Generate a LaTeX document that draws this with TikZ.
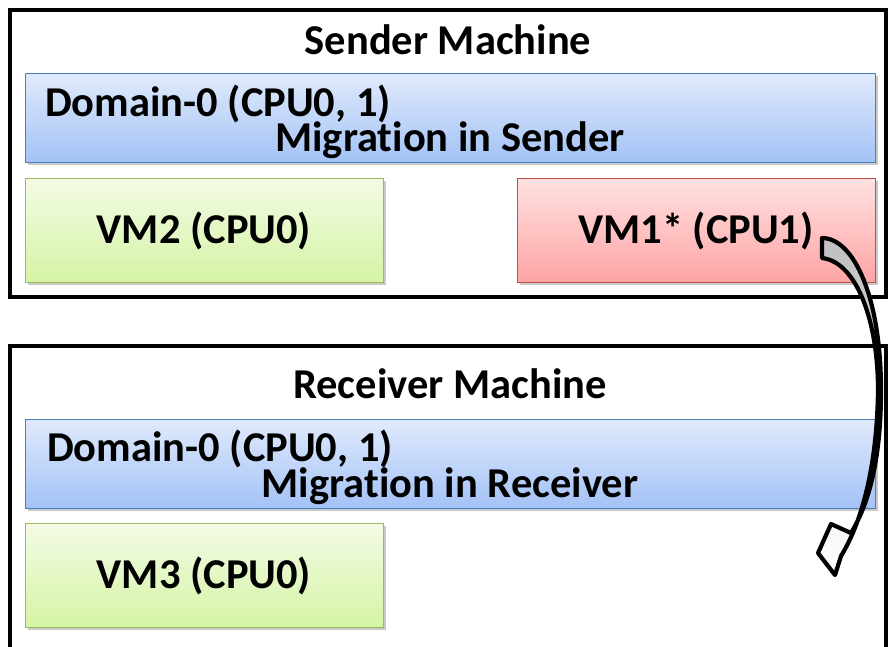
\documentclass[tikz,border=0pt]{standalone}
\usepackage{fontspec}
\setmainfont{Carlito}[Ligatures=NoCommon]
\usetikzlibrary{shadows}

\definecolor{domline}{HTML}{4A7EBB}
\definecolor{domtop}{HTML}{E0EAFC}
\definecolor{dombot}{HTML}{A3C2F6}
\definecolor{greenline}{HTML}{9BBB59}
\definecolor{greentop}{HTML}{F3FBE6}
\definecolor{greenbot}{HTML}{D5F4A4}
\definecolor{redline}{HTML}{C0504D}
\definecolor{redtop}{HTML}{FFE1E1}
\definecolor{redbot}{HTML}{FFA4A4}

\begin{document}
\begin{tikzpicture}[x=1pt, y=-1pt,
    machine/.style={draw, line width=4.5pt},
    title/.style={font=\fontsize{42.5}{42.5}\selectfont\bfseries, anchor=base},
    domtext/.style={font=\fontsize{42.5}{42.5}\selectfont\bfseries, anchor=base, inner sep=0pt},
    softshadow/.style={drop shadow={shadow xshift=2.5pt, shadow yshift=-2.5pt, opacity=0.3, fill=black!70}},
    dom/.style={draw=domline, line width=1pt, top color=domtop, bottom color=dombot,
        minimum width=850pt, minimum height=89pt, inner sep=0pt, softshadow},
    vm/.style={draw=#1line, line width=1pt, top color=#1top, bottom color=#1bot,
        minimum width=358pt, minimum height=104pt, inner sep=0pt, softshadow,
        text height=28pt, text depth=2pt, font=\fontsize{42.5}{42.5}\selectfont\bfseries},
    migarrow/.style={draw, line width=4.2pt, line join=round, top color=black!25, bottom color=white}]
  \useasboundingbox (0,0) rectangle (890,646);

  % sender side
  \draw[machine] (10,10) rectangle (886,297);
  \node[title] (sendertitle) at (448,54) {Sender Machine};
  \node[dom] (senddom) at (450,118) {};
  \node[domtext, anchor=base west] (senddomname) at (45,116) {Domain-0 (CPU0, 1)};
  \node[domtext] (sendmig) at (450,151) {Migration in Sender};
  \node[vm=green] (vm2) at (204,230) {VM2 (CPU0)};
  \node[vm=red] (vm1) at (696,230) {VM1* (CPU1)};

  % receiver side, frame runs off the bottom
  \draw[machine] (10,650) |- (886,346) -- (886,650);
  \node[title] (recvtitle) at (450,398) {Receiver Machine};
  \node[dom] (recvdom) at (450,463.5) {};
  \node[domtext, anchor=base west] (recvdomname) at (47,461) {Domain-0 (CPU0, 1)};
  \node[domtext] (recvmig) at (450,497) {Migration in Receiver};
  \node[vm=green] (vm3) at (204,575) {VM3 (CPU0)};

  % migration arrow
  \draw[migarrow] (822,238) .. controls (854,238) and (881,298) .. (881,390)
    .. controls (881,462) and (868,505) .. (851,533)
    -- (831,524) -- (818,553) -- (835,575) -- (841,556)
    .. controls (862,522) and (877,466) .. (878,390)
    .. controls (878,322) and (857,262) .. (822,258) -- cycle;
\end{tikzpicture}
\end{document}
